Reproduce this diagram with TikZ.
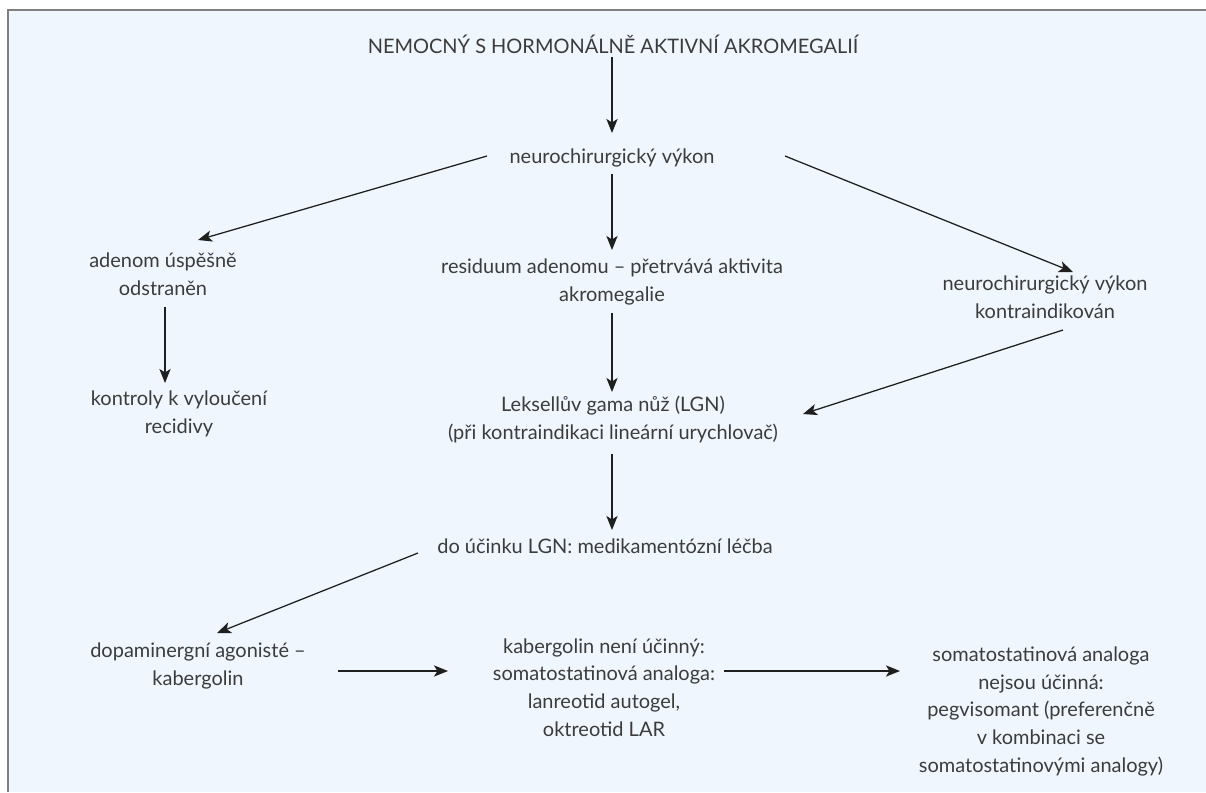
\documentclass[tikz,border=0pt]{standalone}
\usepackage{fontspec}
\setmainfont{Lato}
\usetikzlibrary{arrows.meta}
\definecolor{panel}{RGB}{239,246,253}
\definecolor{frame}{RGB}{128,128,128}
\definecolor{txt}{RGB}{60,60,60}
\tikzset{
  lbl/.style={anchor=base,align=center,inner sep=0pt,text=txt,
    font=\fontsize{14.2pt}{19.6pt}\selectfont},
  arr/.style={-{Stealth[length=10pt,width=8pt,inset=2.5pt]},line width=0.9pt,draw=black!88},
}
\begin{document}
\begin{tikzpicture}[x=0.025cm,y=-0.025cm]
  \useasboundingbox (0,0) rectangle (1206,792);
  \fill[panel] (8,10) rectangle (1206,792);
  \draw[frame,line width=1.4pt] (1206,10) -- (8,10) -- (8,792);

  % texts (base = baseline of the last line)
  \node[lbl] (title) at (613,53) {NEMOCNÝ S HORMONÁLNĚ AKTIVNÍ AKROMEGALIÍ};
  \node[lbl] (neuro) at (612,163) {neurochirurgický výkon};
  \node[lbl] (adenom) at (163,295) {adenom úspěšně\\odstraněn};
  \node[lbl] (resid) at (612,301) {residuum adenomu – přetrvává aktivita\\akromegalie};
  \node[lbl] (kontra) at (1045,318) {neurochirurgický výkon\\kontraindikován};
  \node[lbl] (kontroly) at (179,433) {kontroly k vyloučení\\recidivy};
  \node[lbl] (leksell) at (613,439) {Leksellův gama nůž (LGN)\\(při kontraindikaci lineární urychlovač)};
  \node[lbl] (ucinek) at (605,553) {do účinku LGN: medikamentózní léčba};
  \node[lbl] (dopa) at (198,685) {dopaminergní agonisté –\\kabergolin};
  \node[lbl] (kab) at (604,736) {kabergolin není účinný:\\somatostatinová analoga:\\lanreotid autogel,\\oktreotid LAR};
  \node[lbl] (somato) at (1041,772) {somatostatinová analoga\\nejsou účinná:\\pegvisomant (preferenčně\\v kombinaci se\\somatostatinovými analogy)};

  % arrows
  \draw[arr] ([shift={(-1,4)}]title.base) -- ([shift={(0,-30)}]neuro.base);
  \draw[arr] ([shift={(-125,-7)}]neuro.base) -- ([shift={(35,-55)}]adenom.base);
  \draw[arr] ([shift={(0,11)}]neuro.base) -- ([shift={(0,-51)}]resid.base);
  \draw[arr] ([shift={(173,-7)}]neuro.base) -- ([shift={(28,-46)}]kontra.base);
  \draw[arr] ([shift={(2,12)}]adenom.base) -- ([shift={(-14,-50)}]kontroly.base);
  \draw[arr] ([shift={(0,12)}]resid.base) -- ([shift={(-1,-47)}]leksell.base);
  \draw[arr] ([shift={(18,12)}]kontra.base) -- ([shift={(190,-25)}]leksell.base);
  \draw[arr] ([shift={(-1,15)}]leksell.base) -- ([shift={(7,-23)}]ucinek.base);
  \draw[arr] ([shift={(-187,0)}]ucinek.base) -- ([shift={(19,-52)}]dopa.base);
  \draw[arr] ([shift={(140,-14)}]dopa.base) -- ([shift={(-156,-65)}]kab.base);
  \draw[arr] ([shift={(120,-65)}]kab.base) -- ([shift={(-141,-101)}]somato.base);
\end{tikzpicture}
\end{document}
